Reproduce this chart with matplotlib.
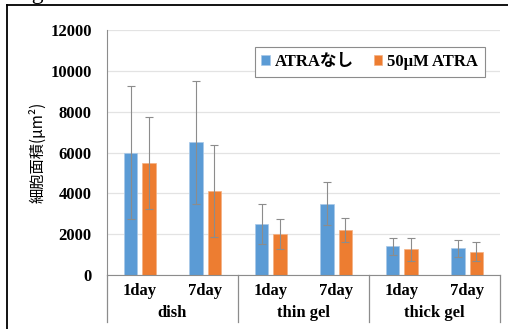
import numpy as np
import matplotlib.pyplot as plt
import matplotlib.transforms as mtransforms

# データ
groups = ["dish", "thin gel", "thick gel"]
days = ["1day", "7day"]
ctrl_mean = [6000, 6500, 2500, 3500, 1400, 1300]
ctrl_sd = [3250, 3000, 1000, 1050, 400, 430]
atra_mean = [5500, 4100, 2000, 2200, 1250, 1150]
atra_sd = [2250, 2250, 750, 600, 550, 450]
series_names = ["ATRAなし", "50μM ATRA"]

SERIF = ["Liberation Serif", "Noto Sans CJK JP"]
BLUE = "#5B9BD5"
ORANGE = "#ED7D31"

fig = plt.figure(figsize=(5.08, 3.29), dpi=100)
ax = fig.add_axes([0.2106, 0.1641, 0.7736, 0.7447])

# 外枠（左と上のみ見えている）と切れた見出し
fig.add_artist(plt.Line2D([7/508, 7/508], [0, 1 - 5/329], color="black", lw=1.3))
fig.add_artist(plt.Line2D([7/508, 1], [1 - 5/329, 1 - 5/329], color="black", lw=1.3))
fig.text(12/508, 1 - 4/329, "Fig.2A", family=SERIF, fontsize=17, va="bottom", ha="left")

n = len(ctrl_mean)
x = np.arange(n)
w = 0.21
off = 0.14
err_kw = dict(ecolor="#8c8c8c", elinewidth=0.8, capsize=3, capthick=0.8)
ax.bar(x - off, ctrl_mean, w, yerr=ctrl_sd, color=BLUE, edgecolor="#a9c9e8",
       linewidth=0.5, label=series_names[0], error_kw=err_kw, zorder=2)
ax.bar(x + off, atra_mean, w, yerr=atra_sd, color=ORANGE, edgecolor="#f4b183",
       linewidth=0.5, label=series_names[1], error_kw=err_kw, zorder=2)

ax.set_xlim(-0.5, n - 0.5)
ax.set_ylim(0, 12000)
ax.set_yticks(np.arange(0, 12001, 2000))
ax.yaxis.grid(True, color="#e3e3e3", lw=0.9, zorder=0)
ax.set_axisbelow(True)
for s in ["top", "right"]:
    ax.spines[s].set_visible(False)
ax.spines["left"].set_color("#8c8c8c")
ax.spines["bottom"].set_color("#8c8c8c")
ax.tick_params(axis="y", length=0, pad=11)
ax.tick_params(axis="x", length=0, labelbottom=False)
for lab in ax.get_yticklabels():
    lab.set_fontfamily(SERIF)
    lab.set_fontweight("bold")
    lab.set_fontsize(12)

ax.set_ylabel("細胞面積(μm²)", family=["Noto Sans CJK JP", "DejaVu Sans"],
              fontsize=11, labelpad=3)

# 2段の横軸ラベル
trans = mtransforms.blended_transform_factory(ax.transData, ax.transAxes)
for i in range(n):
    ax.text(x[i], -0.065, days[i % 2], transform=trans, ha="center", va="center",
            family=SERIF, fontweight="bold", fontsize=12)
for g, name in enumerate(groups):
    ax.text(2 * g + 0.5, -0.155, name, transform=trans, ha="center", va="center",
            family=SERIF, fontweight="bold", fontsize=12)
for xs in [-0.5, 1.5, 3.5, 5.5]:
    ax.plot([xs, xs], [0, -0.19], transform=trans, color="#8c8c8c", lw=0.9,
            clip_on=False)

leg = ax.legend(loc="upper right", bbox_to_anchor=(0.982, 0.963), ncol=2,
                prop=dict(family=SERIF, weight="bold", size=12),
                handlelength=0.5, handleheight=0.5, handletextpad=0.3,
                columnspacing=1.2, fancybox=False, framealpha=1,
                borderpad=0.4)
leg.get_frame().set_edgecolor("#8c8c8c")
leg.get_frame().set_linewidth(0.8)

fig.savefig("out.png", dpi=100)
